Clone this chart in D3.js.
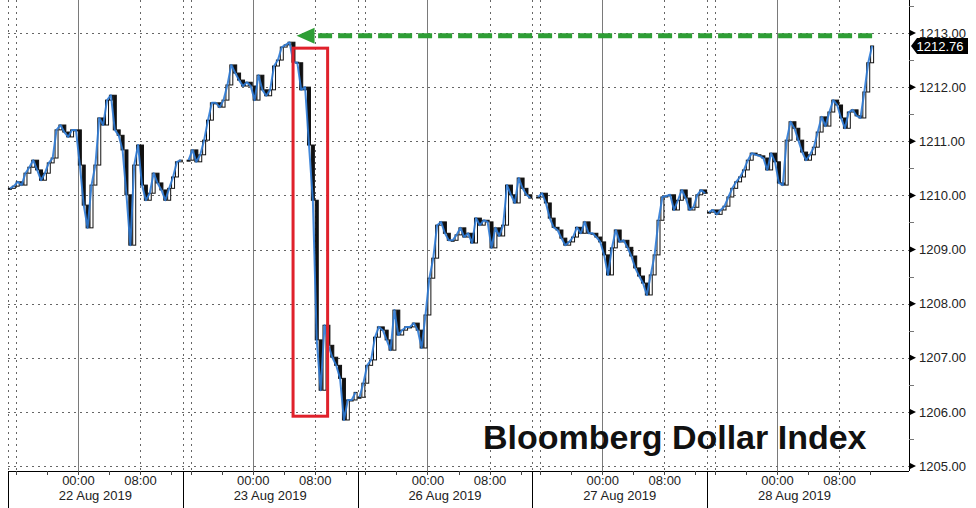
<!DOCTYPE html>
<html><head><meta charset="utf-8">
<script src="https://cdn.jsdelivr.net/npm/d3@7"></script>
<style>html,body{margin:0;padding:0;background:#fff;} svg{display:block;}</style>
</head><body>
<svg id="c" width="976" height="508"></svg>
<script>
// ---- data (30-minute closes, Bloomberg Dollar Index) ----
const sessionLabels = ["22 Aug 2019","23 Aug 2019","26 Aug 2019","27 Aug 2019","28 Aug 2019"];
const timeLabels = ["00:00","08:00"];
const yTicks = [1205,1206,1207,1208,1209,1210,1211,1212,1213];
const barsPerSession = 45;
const sessionStarts = [0, 46, 90, 136, 180];
const s1 = [1210.13,1210.17,1210.25,1210.19,1210.41,1210.52,1210.65,1210.47,1210.28,1210.41,
 1210.60,1210.69,1211.21,1211.30,1211.17,1211.08,1211.21,1211.21,1210.56,1209.82,
 1209.40,1210.19,1210.56,1211.43,1211.30,1211.76,1211.85,1211.21,1211.11,1210.84,
 1210.01,1209.08,1210.56,1210.93,1210.19,1209.91,1210.04,1210.41,1210.23,1210.10,
 1209.91,1210.13,1210.34,1210.62,1210.65];
const s2 = [1210.65,1210.84,1210.62,1210.75,1211.02,1211.39,1211.71,1211.71,1211.63,1211.76,
 1212.04,1212.41,1212.26,1212.13,1212.02,1212.09,1212.02,1211.76,1212.22,1211.95,
 1211.84,1211.95,1212.39,1212.50,1212.74,1212.78,1212.83,1212.46,1212.45,1211.95,
 1212.00,1210.93,1209.91,1207.33,1206.40,1207.60,1207.23,1207.01,1206.86,1206.62,
 1205.85,1206.22,1206.22,1206.36];
const s3 = [1206.27,1206.53,1206.86,1206.96,1207.38,1207.57,1207.51,1207.33,1207.14,1207.88,
 1207.42,1207.51,1207.57,1207.57,1207.64,1207.51,1207.18,1207.79,1208.47,1208.84,
 1209.45,1209.51,1209.30,1209.17,1209.17,1209.27,1209.40,1209.23,1209.30,1209.12,
 1209.58,1209.45,1209.54,1209.51,1209.03,1209.40,1209.25,1209.45,1210.19,1210.01,
 1209.86,1210.32,1210.13,1210.01,1209.95];
const s4 = [1209.97,1210.04,1209.86,1209.58,1209.41,1209.36,1209.21,1209.08,1209.14,1209.23,
 1209.41,1209.30,1209.51,1209.30,1209.30,1209.23,1209.14,1208.90,1208.53,1209.03,
 1209.36,1209.14,1209.17,1209.04,1208.88,1208.66,1208.51,1208.38,1208.16,1208.53,
 1208.90,1209.54,1209.97,1209.99,1210.01,1209.73,1209.91,1210.10,1209.95,1209.73,
 1209.78,1210.01,1210.10,1210.04];
const s5 = [1209.69,1209.73,1209.65,1209.73,1209.80,1209.97,1210.13,1210.25,1210.34,1210.47,
 1210.65,1210.78,1210.75,1210.73,1210.69,1210.47,1210.78,1210.62,1210.23,1210.19,
 1211.02,1211.36,1211.24,1211.02,1210.80,1210.65,1210.75,1210.89,1211.17,1211.45,
 1211.28,1211.54,1211.76,1211.67,1211.43,1211.24,1211.54,1211.58,1211.47,1211.43,
 1211.91,1212.45,1212.76];
const sessionsData = [s1, s2, s3, s4, s5];
const lastValue = 1212.76;
const previousHigh = 1212.95;
const title = "Bloomberg Dollar Index";
// red highlight box: bar range and value range
const boxBars = [73.4, 82.3];
const boxValues = [1205.92, 1212.72];

// ---- drawing ----
const svg = d3.select("#c");
const W = 976, H = 508;
const plotLeft = 8, plotRight = 909, axisY = 471;
const x = d3.scaleLinear().domain([0, 232]).range([plotLeft, plotRight]);
const y = d3.scaleLinear().domain([1205, 1213]).range([466, 33]);

svg.append("rect").attr("width", W).attr("height", H).attr("fill", "#fff");

// vertical grid
const vDotted = [], vSolid = [], minorTicks = [], majorTimeTicks = [], boundaries = [];
for (let k = 0; k < 5; k++) {
  const b = k * barsPerSession;
  vDotted.push(b, b + 2, b + 34);
  vSolid.push(b + 18);
  majorTimeTicks.push(b + 18, b + 34);
  boundaries.push(b);
  [2, 10, 18, 26, 34, 42].forEach(o => minorTicks.push(b + o));
}

const grid = svg.append("g");
grid.selectAll(".vd").data(vDotted).join("line")
  .attr("x1", d => Math.round(x(d)) + 0.5).attr("x2", d => Math.round(x(d)) + 0.5)
  .attr("y1", 0).attr("y2", axisY)
  .attr("stroke", "#666").attr("stroke-width", 1).attr("stroke-dasharray", "2,4");
grid.selectAll(".vs").data(vSolid).join("line")
  .attr("x1", d => Math.round(x(d)) + 0.5).attr("x2", d => Math.round(x(d)) + 0.5)
  .attr("y1", 0).attr("y2", axisY + 4)
  .attr("stroke", "#7a7a7a").attr("stroke-width", 1);
grid.selectAll(".hd").data(yTicks).join("line")
  .attr("x1", plotLeft).attr("x2", plotRight)
  .attr("y1", d => Math.round(y(d)) + 0.5).attr("y2", d => Math.round(y(d)) + 0.5)
  .attr("stroke", "#666").attr("stroke-width", 1).attr("stroke-dasharray", "2,4");

// series: line + candles
const lineGen = d3.line().x(d => x(d.i + 0.5)).y(d => y(d.c));
const series = svg.append("g");
sessionsData.forEach((arr, k) => {
  const pts = arr.map((c, j) => ({ i: sessionStarts[k] + j, c, o: j > 0 ? arr[j - 1] : c }));
  const cg = series.append("g");
  cg.selectAll("rect").data(pts).join("rect")
    .attr("x", d => x(d.i + 0.5) - 1.5)
    .attr("y", d => Math.min(y(d.o), y(d.c)))
    .attr("width", 3)
    .attr("height", d => Math.max(1, Math.abs(y(d.o) - y(d.c))))
    .attr("fill", d => d.c >= d.o ? "#fff" : "#111")
    .attr("stroke", "#111").attr("stroke-width", 1);
  series.append("path").datum(pts).attr("d", lineGen)
    .attr("fill", "none").attr("stroke", "#2f7bd6").attr("stroke-width", 2)
    .attr("stroke-linejoin", "round").attr("opacity", 0.9);
});

// axes
const fontFam = "'Liberation Sans', Arial, sans-serif";
const yAxis = d3.axisRight(y).tickValues(yTicks).tickFormat(d3.format(".2f")).tickSize(0).tickPadding(10);
const gy = svg.append("g").attr("transform", `translate(${plotRight},0)`).call(yAxis);
gy.select(".domain").remove();
gy.selectAll("text").attr("font-family", fontFam).attr("font-size", 13).attr("fill", "#222");
svg.append("line").attr("x1", plotRight + 0.5).attr("x2", plotRight + 0.5).attr("y1", 0).attr("y2", axisY)
  .attr("stroke", "#000");
svg.selectAll(".tri").data(yTicks).join("path")
  .attr("d", d => `M${plotRight},${y(d) - 3.5}L${plotRight + 7},${y(d)}L${plotRight},${y(d) + 3.5}Z`)
  .attr("fill", "#000");
const halfTicks = yTicks.map(v => v + 0.5);
svg.selectAll(".ht").data(halfTicks).join("line")
  .attr("x1", plotRight).attr("x2", plotRight + 5)
  .attr("y1", d => Math.round(y(d)) + 0.5).attr("y2", d => Math.round(y(d)) + 0.5)
  .attr("stroke", "#777");

const xAxis = d3.axisBottom(x).tickValues(majorTimeTicks)
  .tickFormat((d, i) => timeLabels[i % 2]).tickSize(0).tickPadding(5);
const gx = svg.append("g").attr("transform", `translate(0,${axisY})`).call(xAxis);
gx.select(".domain").remove();
gx.selectAll("text").attr("font-family", fontFam).attr("font-size", 13).attr("fill", "#222");
svg.append("line").attr("x1", plotLeft).attr("x2", plotRight).attr("y1", axisY + 0.5).attr("y2", axisY + 0.5)
  .attr("stroke", "#000");
svg.selectAll(".mt").data(minorTicks).join("line")
  .attr("x1", d => Math.round(x(d)) + 0.5).attr("x2", d => Math.round(x(d)) + 0.5)
  .attr("y1", axisY).attr("y2", axisY + 4).attr("stroke", "#444");
svg.selectAll(".bd").data(boundaries).join("line")
  .attr("x1", d => Math.round(x(d)) + 0.5).attr("x2", d => Math.round(x(d)) + 0.5)
  .attr("y1", axisY).attr("y2", H).attr("stroke", "#000");
svg.selectAll(".dl").data(sessionLabels).join("text")
  .attr("x", (d, i) => x(i * barsPerSession + barsPerSession / 2))
  .attr("y", 500).attr("text-anchor", "middle")
  .attr("font-family", fontFam).attr("font-size", 13).attr("fill", "#222").text(d => d);

// current value label
const ly = y(lastValue);
svg.append("path")
  .attr("d", `M${plotRight + 2},${ly}L${plotRight + 8},${ly - 8}L968,${ly - 8}L968,${ly + 8}L${plotRight + 8},${ly + 8}Z`)
  .attr("fill", "#000");
svg.append("text").attr("x", 940).attr("y", ly).attr("dy", "0.36em").attr("text-anchor", "middle")
  .attr("font-family", fontFam).attr("font-size", 13).attr("fill", "#fff").text(d3.format(".2f")(lastValue));

// red highlight box
svg.append("rect")
  .attr("x", x(boxBars[0])).attr("y", y(boxValues[1]))
  .attr("width", x(boxBars[1]) - x(boxBars[0])).attr("height", y(boxValues[0]) - y(boxValues[1]))
  .attr("fill", "none").attr("stroke", "#e0212b").attr("stroke-width", 3);

// green dashed arrow
const ay = y(previousHigh);
const tipX = x(74.3), tailX = x(222.5);
svg.append("path").attr("d", `M${tailX},${ay}L${tipX + 21},${ay}`)
  .attr("stroke", "#2e9e35").attr("stroke-width", 5).attr("stroke-dasharray", "14,6").attr("fill", "none");
svg.append("path").attr("d", `M${tipX},${ay}L${tipX + 18},${ay - 8}L${tipX + 18},${ay + 8}Z`)
  .attr("fill", "#2e9e35");

// title
svg.append("text").attr("x", 483).attr("y", 449)
  .attr("font-family", fontFam).attr("font-weight", "bold").attr("font-size", 34).attr("fill", "#111")
  .text(title);
</script></body></html>
